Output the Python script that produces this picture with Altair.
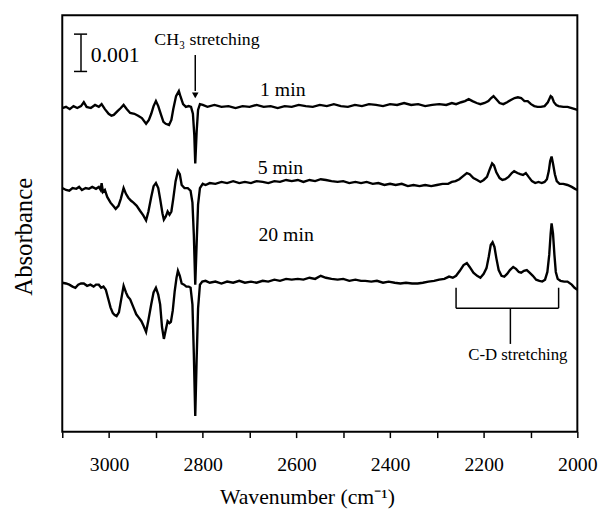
import altair as alt
import pandas as pd

# Wavenumber (cm-1) and absorbance (in units of 0.001)
t1_w = [3100, 3092, 3084, 3076, 3068, 3060, 3054, 3048, 3039, 3030, 3022, 3016, 3009, 3001, 2995, 2990, 2982, 2975, 2969, 2962,
        2955, 2946, 2938, 2930, 2921, 2915, 2910, 2905, 2900, 2895, 2889, 2884, 2879, 2872, 2867, 2863, 2857, 2851, 2847, 2842,
        2836, 2830, 2825, 2821, 2818, 2816, 2813, 2810, 2806, 2800, 2790, 2775, 2760, 2745, 2730, 2715, 2700, 2685, 2670, 2655,
        2640, 2625, 2610, 2595, 2580, 2565, 2550, 2535, 2520, 2505, 2490, 2475, 2460, 2445, 2430, 2415, 2400, 2385, 2370, 2355,
        2340, 2325, 2310, 2295, 2280, 2268, 2259, 2248, 2240, 2232, 2224, 2215, 2207, 2198, 2190, 2184, 2179, 2173, 2166, 2158,
        2150, 2142, 2134, 2127, 2120, 2113, 2106, 2099, 2092, 2085, 2078, 2070, 2063, 2057, 2054, 2050, 2045, 2040, 2030, 2021,
        2012, 2005, 2000]
t1_a = [8.41, 8.44, 8.38, 8.46, 8.41, 8.46, 8.56, 8.44, 8.41, 8.49, 8.44, 8.51, 8.38, 8.26, 8.21, 8.23, 8.33, 8.41, 8.49, 8.38,
        8.28, 8.26, 8.21, 8.15, 8.00, 8.10, 8.26, 8.46, 8.59, 8.46, 8.23, 8.05, 8.00, 7.97, 8.10, 8.38, 8.72, 8.85, 8.69, 8.51,
        8.44, 8.46, 8.44, 8.26, 7.70, 6.97, 7.80, 8.36, 8.51, 8.49, 8.44, 8.49, 8.44, 8.46, 8.41, 8.46, 8.44, 8.49, 8.44, 8.46,
        8.41, 8.46, 8.44, 8.49, 8.46, 8.44, 8.49, 8.46, 8.51, 8.46, 8.44, 8.49, 8.46, 8.51, 8.49, 8.46, 8.51, 8.49, 8.54, 8.49,
        8.51, 8.46, 8.49, 8.51, 8.49, 8.54, 8.51, 8.56, 8.59, 8.64, 8.59, 8.54, 8.51, 8.54, 8.59, 8.67, 8.72, 8.64, 8.54, 8.51,
        8.56, 8.62, 8.67, 8.69, 8.67, 8.59, 8.59, 8.51, 8.46, 8.44, 8.44, 8.46, 8.56, 8.72, 8.69, 8.56, 8.49, 8.46, 8.44, 8.44,
        8.41, 8.38, 8.36]

t2_w = [3100, 3092, 3085, 3078, 3070, 3064, 3058, 3050, 3043, 3036, 3028, 3022, 3018, 3016, 3013, 3009, 3004, 2997, 2990, 2986,
        2980, 2975, 2969, 2964, 2959, 2953, 2948, 2941, 2934, 2927, 2921, 2916, 2910, 2905, 2900, 2895, 2891, 2886, 2883, 2879,
        2875, 2871, 2867, 2863, 2858, 2853, 2849, 2845, 2839, 2832, 2826, 2822, 2819, 2816, 2813, 2810, 2806, 2800, 2794, 2785,
        2773, 2760, 2748, 2735, 2722, 2710, 2697, 2685, 2672, 2660, 2647, 2635, 2622, 2610, 2597, 2585, 2572, 2560, 2548, 2537,
        2525, 2512, 2500, 2487, 2474, 2462, 2450, 2437, 2425, 2412, 2400, 2388, 2375, 2362, 2350, 2337, 2325, 2312, 2300, 2288,
        2276, 2268, 2260, 2252, 2244, 2236, 2230, 2222, 2214, 2207, 2200, 2193, 2187, 2182, 2178, 2173, 2166, 2160, 2154, 2147,
        2140, 2135, 2128, 2122, 2116, 2110, 2104, 2097, 2090, 2083, 2076, 2070, 2065, 2061, 2058, 2055, 2052, 2048, 2044, 2038,
        2030, 2021, 2012, 2005, 2000]
t2_a = [6.33, 6.28, 6.26, 6.33, 6.31, 6.36, 6.28, 6.33, 6.31, 6.36, 6.31, 6.36, 6.28, 6.46, 6.23, 6.28, 6.10, 5.95, 5.85, 5.79,
        5.87, 6.05, 6.33, 6.18, 6.08, 6.00, 5.95, 5.87, 5.74, 5.62, 5.49, 5.72, 6.10, 6.38, 6.46, 6.33, 6.05, 5.67, 5.51, 5.59,
        5.72, 5.64, 5.72, 6.05, 6.51, 6.77, 6.69, 6.41, 6.33, 6.33, 6.26, 5.95, 5.10, 3.82, 4.90, 5.90, 6.33, 6.44, 6.41, 6.46,
        6.44, 6.49, 6.46, 6.51, 6.46, 6.49, 6.46, 6.51, 6.49, 6.46, 6.51, 6.49, 6.54, 6.51, 6.54, 6.49, 6.54, 6.51, 6.56, 6.54,
        6.51, 6.49, 6.51, 6.46, 6.49, 6.46, 6.49, 6.44, 6.46, 6.41, 6.44, 6.41, 6.44, 6.38, 6.41, 6.38, 6.41, 6.38, 6.41, 6.44,
        6.44, 6.49, 6.51, 6.56, 6.64, 6.72, 6.69, 6.59, 6.54, 6.49, 6.54, 6.62, 6.82, 6.97, 6.92, 6.74, 6.59, 6.54, 6.56, 6.62,
        6.72, 6.77, 6.72, 6.69, 6.67, 6.72, 6.62, 6.51, 6.46, 6.49, 6.46, 6.49, 6.56, 6.77, 7.03, 7.15, 6.97, 6.69, 6.51, 6.44,
        6.44, 6.41, 6.36, 6.31, 6.28]

t3_w = [3100, 3092, 3085, 3078, 3072, 3066, 3060, 3054, 3047, 3040, 3033, 3028, 3022, 3017, 3012, 3007, 3002, 2997, 2992, 2988,
        2984, 2979, 2975, 2969, 2964, 2960, 2955, 2948, 2942, 2937, 2931, 2926, 2921, 2916, 2910, 2905, 2900, 2895, 2891, 2887,
        2883, 2879, 2875, 2871, 2868, 2864, 2860, 2856, 2853, 2849, 2845, 2840, 2835, 2830, 2826, 2822, 2819, 2816, 2813, 2810,
        2806, 2801, 2794, 2785, 2773, 2760, 2748, 2735, 2722, 2710, 2697, 2685, 2672, 2660, 2647, 2635, 2622, 2610, 2597, 2585,
        2572, 2560, 2548, 2537, 2525, 2512, 2500, 2487, 2474, 2462, 2453, 2440, 2428, 2415, 2403, 2390, 2378, 2366, 2353, 2341,
        2330, 2318, 2306, 2295, 2284, 2274, 2266, 2259, 2251, 2243, 2236, 2230, 2222, 2214, 2207, 2200, 2194, 2189, 2185, 2181,
        2177, 2173, 2168, 2162, 2156, 2150, 2144, 2137, 2131, 2125, 2120, 2114, 2108, 2102, 2095, 2088, 2081, 2075, 2069, 2064,
        2060, 2057, 2055, 2052, 2049, 2046, 2042, 2036, 2028, 2021, 2012, 2006, 2000]
t3_a = [3.87, 3.85, 3.82, 3.77, 3.74, 3.82, 3.85, 3.85, 3.79, 3.82, 3.77, 3.82, 3.82, 3.74, 3.77, 3.69, 3.46, 3.23, 3.08, 3.03,
        3.00, 3.10, 3.38, 3.79, 3.62, 3.51, 3.44, 3.23, 3.05, 2.97, 2.87, 2.74, 2.59, 2.90, 3.31, 3.62, 3.74, 3.56, 3.31, 2.72,
        2.41, 2.64, 2.87, 2.82, 2.85, 3.15, 3.64, 4.00, 4.18, 4.05, 3.85, 3.82, 3.77, 3.77, 3.74, 3.30, 2.00, 0.41, 1.90, 3.20,
        3.82, 3.90, 3.92, 3.87, 3.90, 3.85, 3.90, 3.87, 3.92, 3.87, 3.90, 3.87, 3.92, 3.90, 3.95, 3.92, 3.97, 3.95, 3.97, 3.95,
        4.00, 3.97, 4.05, 4.00, 3.97, 3.95, 3.97, 3.92, 3.95, 3.92, 3.92, 3.90, 3.92, 3.87, 3.90, 3.87, 3.85, 3.87, 3.85, 3.85,
        3.87, 3.90, 3.92, 3.95, 3.97, 4.03, 4.00, 4.05, 4.18, 4.33, 4.38, 4.28, 4.13, 4.05, 4.00, 4.10, 4.25, 4.56, 4.85, 4.92,
        4.80, 4.51, 4.20, 4.05, 4.03, 4.10, 4.20, 4.28, 4.23, 4.15, 4.13, 4.18, 4.20, 4.13, 4.05, 3.95, 3.92, 3.90, 3.95, 4.15,
        4.60, 5.15, 5.41, 5.15, 4.60, 4.15, 3.97, 3.92, 3.90, 3.90, 3.82, 3.74, 3.69]

trace_names = ["1 min", "5 min", "20 min"]

all_ticks = [3100, 3000, 2900, 2800, 2700, 2600, 2500, 2400, 2300, 2200, 2100, 2000]

# annotations (wavenumber, absorbance in 0.001 units)
time_text = ["1 min", "5 min", "20 min"]
time_w = [2629, 2634, 2622]
time_a = [8.72, 6.69, 4.95]

ch3_text = "CH\u2083 stretching"
ch3_w = 2791
ch3_a = 10.05

cd_text = "C-D stretching"
cd_w = 2127
cd_a = 1.85

scale_w = 3060
scale_cap_w = [3075, 3047]
scale_a = [10.33, 9.36]
scale_text_w = 3039
scale_text_a = 9.79

arrow_w = 2816
arrow_a = [9.79, 8.85]
arrow_head_a = 8.74

bracket_w = [2259, 2040]
bracket_top_a = 3.74
bracket_bar_a = 3.21
stem_w = 2143
stem_bottom_a = 2.28

mA = 0.001
frames = []
for name, ws, As in zip(trace_names, [t1_w, t2_w, t3_w], [t1_a, t2_a, t3_a]):
    frames.append(pd.DataFrame({"trace": name, "w": ws, "A": [a * mA for a in As]}))
spectra = pd.concat(frames, ignore_index=True)

FONT = "Liberation Serif"
xscale = alt.Scale(domain=[2000, 3100], reverse=True, nice=False, zero=False)
yscale = alt.Scale(domain=[0, 10.82 * mA], nice=False, zero=False)

x_axis = alt.Axis(
    values=all_ticks,
    labelExpr="datum.value % 200 === 0 ? format(datum.value, 'd') : ''",
    labelFlush=False, labelOverlap=False,
    grid=False, domain=False,
    tickSize=6, tickWidth=1.5, tickColor="black",
    labelFont=FONT, labelFontSize=20, labelColor="black", labelPadding=17,
    title="Wavenumber (cm\u207b\u00b9)", titleFont=FONT, titleFontSize=22, titleFontWeight="normal",
    titleColor="black", titleBaseline="alphabetic", titleY=73, titleX=248,
)
y_axis = alt.Axis(
    labels=False, ticks=False, domain=False, grid=False,
    title="Absorbance", titleFont=FONT, titleFontSize=25, titleFontWeight="normal", titleColor="black",
    titleX=-39, titleY=224, titleBaseline="middle", titleAngle=270,
)

lines = alt.Chart(spectra).mark_line(color="black", strokeWidth=2.4).encode(
    x=alt.X("w:Q", scale=xscale, axis=x_axis),
    y=alt.Y("A:Q", scale=yscale, axis=y_axis),
    detail="trace:N",
    order="w:Q",
)

def text_layer(texts, ws, As, size, align="center", baseline="alphabetic"):
    df = pd.DataFrame({"t": texts, "w": ws, "A": [a * mA for a in As]})
    return alt.Chart(df).mark_text(font=FONT, fontSize=size, color="black", align=align,
                                   baseline=baseline).encode(
        x=alt.X("w:Q", scale=xscale), y=alt.Y("A:Q", scale=yscale), text="t:N")

times = text_layer(time_text, time_w, time_a, 20)
ch3 = text_layer([ch3_text], [ch3_w], [ch3_a], 18)
cd = text_layer([cd_text], [cd_w], [cd_a], 17)
scale_lbl = text_layer(["0.001"], [scale_text_w], [scale_text_a], 22, align="left", baseline="middle")

scale_df = pd.DataFrame({"w": [scale_w], "a1": [scale_a[0] * mA], "a2": [scale_a[1] * mA]})
scale_bar = alt.Chart(scale_df).mark_rule(color="black", strokeWidth=1.5).encode(
    x=alt.X("w:Q", scale=xscale), y=alt.Y("a1:Q", scale=yscale), y2="a2:Q")
caps_df = pd.DataFrame({"w1": [scale_cap_w[0]] * 2, "w2": [scale_cap_w[1]] * 2, "a": [v * mA for v in scale_a]})
caps = alt.Chart(caps_df).mark_rule(color="black", strokeWidth=1.5).encode(
    x=alt.X("w1:Q", scale=xscale), x2="w2:Q", y=alt.Y("a:Q", scale=yscale))

arrow_df = pd.DataFrame({"w": [arrow_w], "a1": [arrow_a[0] * mA], "a2": [arrow_a[1] * mA]})
arrow = alt.Chart(arrow_df).mark_rule(color="black", strokeWidth=1.5).encode(
    x=alt.X("w:Q", scale=xscale), y=alt.Y("a1:Q", scale=yscale), y2="a2:Q")
head = alt.Chart(pd.DataFrame({"w": [arrow_w], "A": [arrow_head_a * mA]})).mark_point(
    shape="triangle-down", filled=True, color="black", size=45, opacity=1).encode(
    x=alt.X("w:Q", scale=xscale), y=alt.Y("A:Q", scale=yscale))

br_v = pd.DataFrame({"w": bracket_w + [stem_w],
                     "a1": [bracket_top_a * mA, bracket_top_a * mA, bracket_bar_a * mA],
                     "a2": [bracket_bar_a * mA, bracket_bar_a * mA, stem_bottom_a * mA]})
bracket_v = alt.Chart(br_v).mark_rule(color="black", strokeWidth=1.5).encode(
    x=alt.X("w:Q", scale=xscale), y=alt.Y("a1:Q", scale=yscale), y2="a2:Q")
br_h = pd.DataFrame({"w1": [bracket_w[0]], "w2": [bracket_w[1]], "a": [bracket_bar_a * mA]})
bracket_h = alt.Chart(br_h).mark_rule(color="black", strokeWidth=1.5).encode(
    x=alt.X("w1:Q", scale=xscale), x2="w2:Q", y=alt.Y("a:Q", scale=yscale))

chart = alt.layer(lines, times, ch3, cd, scale_lbl, scale_bar, caps, arrow, head, bracket_v, bracket_h).properties(
    width=522, height=422,
    autosize=alt.AutoSizeParams(type="none"),
    padding={"left": 55, "top": 4, "right": 26, "bottom": 75},
    background="white",
).configure_view(stroke="black", strokeWidth=2)

chart.save("out.html", embed_options={"renderer": "svg", "actions": False})
